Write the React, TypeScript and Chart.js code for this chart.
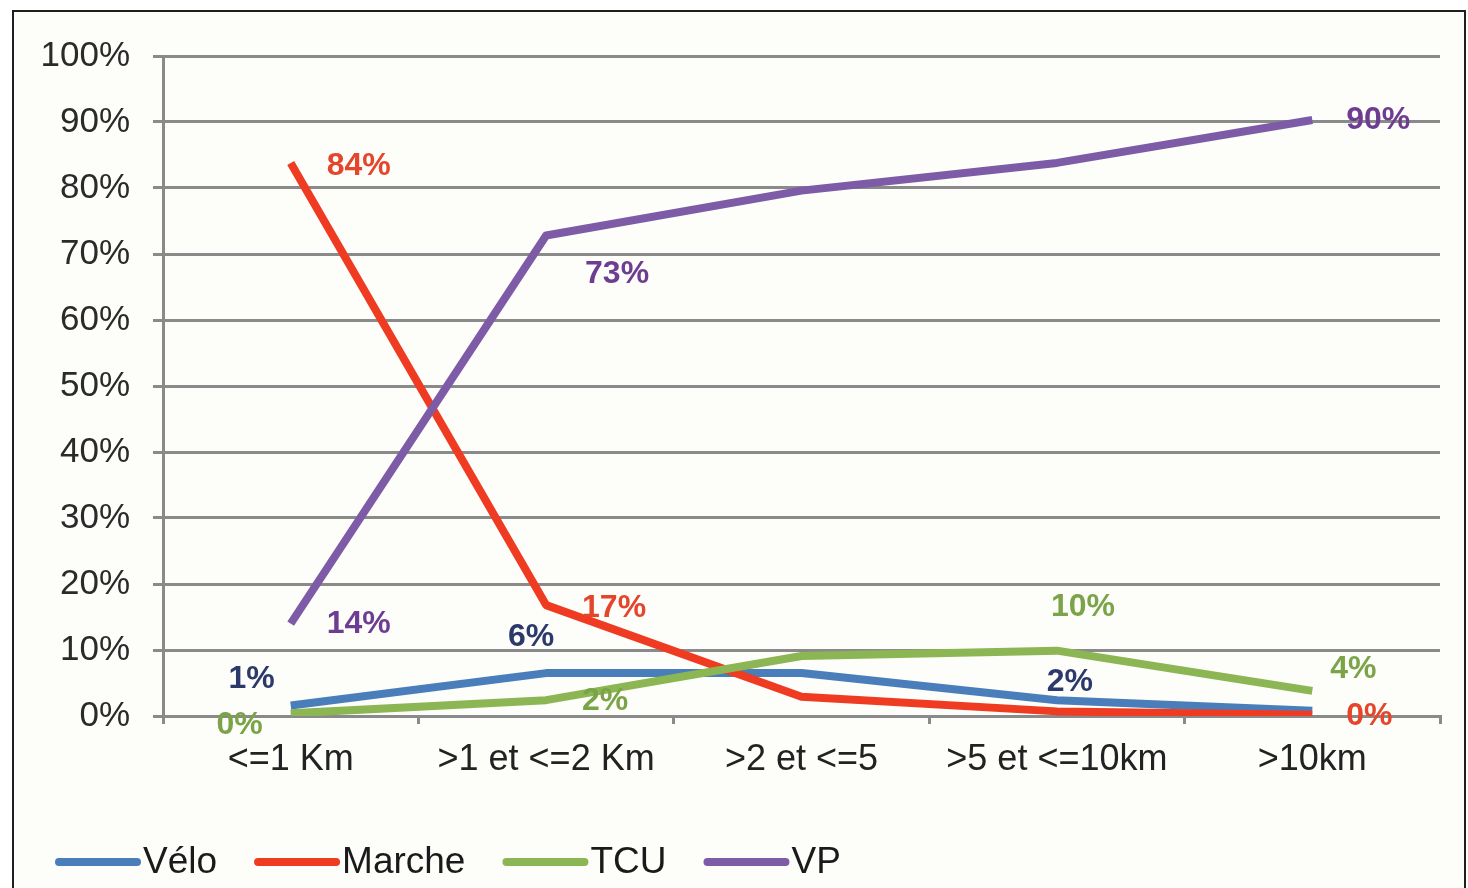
import { useEffect, useRef } from 'react';
import { Chart, registerables } from 'chart.js';

Chart.register(...registerables);

const categories = ['<=1 Km', '>1 et <=2 Km', '>2 et <=5', '>5 et <=10km', '>10km'];
const seriesNames = ['Vélo', 'Marche', 'TCU', 'VP'];

const veloValues = [1.6, 6.5, 6.5, 2.4, 0.8];
const marcheValues = [83.8, 16.8, 2.9, 0.7, 0.2];
const tcuValues = [0.4, 2.4, 9.1, 9.9, 3.8];
const vpValues = [14.0, 72.8, 79.6, 83.8, 90.3];

const veloLabels = ['1%', '6%', null, '2%', null];
const marcheLabels = ['84%', '17%', null, null, '0%'];
const tcuLabels = ['0%', '2%', null, '10%', '4%'];
const vpLabels = ['14%', '73%', null, null, '90%'];

const yTickValues = [0, 10, 20, 30, 40, 50, 60, 70, 80, 90, 100];

// label offsets relative to their point (style, not data)
const veloLabelOffsets = [[-39, -26], [-15, -36], null, [13, -18], null];
const marcheLabelOffsets = [[68, 3], [68, 3], null, null, [57, 1]];
const tcuLabelOffsets = [[-51, 12], [59, 1], null, [26, -43], [41, -22]];
const vpLabelOffsets = [[68, 1], [71, 39], null, null, [66, 0]];

const FONT = "'Liberation Sans', Arial, Helvetica, sans-serif";

const pointLabelsPlugin = {
  id: 'pointLabels',
  afterDatasetsDraw(chart: any) {
    const ctx = chart.ctx;
    ctx.save();
    ctx.font = `bold 32px ${FONT}`;
    ctx.textAlign = 'center';
    ctx.textBaseline = 'middle';
    chart.data.datasets.forEach((ds: any, di: number) => {
      const meta = chart.getDatasetMeta(di);
      const labels = ds.pointLabels || [];
      const offs = ds.labelOffsets || [];
      meta.data.forEach((el: any, i: number) => {
        const t = labels[i];
        const o = offs[i];
        if (!t || !o) return;
        ctx.fillStyle = ds.labelColor;
        ctx.fillText(t, el.x + o[0], el.y + o[1]);
      });
    });
    ctx.restore();
  },
};

const lineLegendPlugin = {
  id: 'lineLegend',
  afterDraw(chart: any, _args: any, opts: any) {
    const ctx = chart.ctx;
    ctx.save();
    ctx.font = `37px ${FONT}`;
    ctx.textAlign = 'left';
    ctx.textBaseline = 'middle';
    let x = opts.x;
    const y = opts.y;
    chart.data.datasets.forEach((ds: any) => {
      ctx.strokeStyle = ds.borderColor;
      ctx.lineWidth = 8;
      ctx.lineCap = 'round';
      ctx.beginPath();
      ctx.moveTo(x + 4, y);
      ctx.lineTo(x + opts.lineLength - 4, y);
      ctx.stroke();
      x += opts.lineLength + opts.textGap;
      ctx.fillStyle = '#1a1a1a';
      ctx.fillText(ds.label, x, y + 1);
      x += ctx.measureText(ds.label).width + opts.itemGap;
    });
    ctx.restore();
  },
};

export default function App() {
  const canvasRef = useRef<HTMLCanvasElement | null>(null);

  useEffect(() => {
    if (!canvasRef.current) return;
    const gridColor = '#8a8a8a';
    const mk = (label: string, data: number[], color: string, labelColor: string, labels: any[], offs: any[], order: number) => ({
      label,
      data,
      borderColor: color,
      backgroundColor: color,
      borderWidth: 8,
      pointRadius: 0,
      pointHoverRadius: 0,
      tension: 0,
      borderJoinStyle: 'round',
      fill: false,
      order,
      labelColor,
      pointLabels: labels,
      labelOffsets: offs,
    });
    const chart = new Chart(canvasRef.current, {
      type: 'line',
      data: {
        labels: categories,
        datasets: [
          mk(seriesNames[0], veloValues, '#4a7ebb', '#2c3a6b', veloLabels, veloLabelOffsets, 3),
          mk(seriesNames[1], marcheValues, '#ef3b22', '#e5452b', marcheLabels, marcheLabelOffsets, 2),
          mk(seriesNames[2], tcuValues, '#8cb653', '#7aa447', tcuLabels, tcuLabelOffsets, 1),
          mk(seriesNames[3], vpValues, '#7d5ba6', '#6e3d91', vpLabels, vpLabelOffsets, 0),
        ] as any,
      },
      options: {
        responsive: false,
        animation: false,
        devicePixelRatio: 1,
        layout: { padding: { top: 44, right: 24, bottom: 132, left: 0 } },
        plugins: {
          legend: { display: false },
          tooltip: { enabled: false },
          lineLegend: { x: 41, y: 850, lineLength: 86, textGap: 2, itemGap: 37 },
        } as any,
        scales: {
          x: {
            offset: true,
            grid: {
              display: true,
              drawOnChartArea: false,
              drawTicks: true,
              tickLength: 8,
              offset: true,
              color: gridColor,
              lineWidth: 3,
            },
            border: { display: true, color: gridColor, width: 3 },
            ticks: {
              color: '#222',
              font: { family: FONT, size: 36 },
              padding: 14,
              maxRotation: 0,
              autoSkip: false,
            },
            afterFit: (scale: any) => {
              scale.height = 60;
            },
          },
          y: {
            min: 0,
            max: 100,
            afterBuildTicks: (scale: any) => {
              scale.ticks = yTickValues.map((v) => ({ value: v }));
            },
            grid: {
              color: gridColor,
              lineWidth: 3,
              tickLength: 10,
              drawTicks: true,
            },
            border: { display: true, color: gridColor, width: 3 },
            ticks: {
              color: '#2a2a2a',
              font: { family: FONT, size: 35 },
              padding: 23,
              callback: (v: any) => `${v}%`,
            },
            afterFit: (scale: any) => {
              scale.width = 149;
            },
          },
        },
      },
      plugins: [pointLabelsPlugin, lineLegendPlugin],
    });
    return () => chart.destroy();
  }, []);

  return (
    <div
      style={{
        position: 'absolute',
        left: 12,
        top: 10,
        width: 1454,
        height: 900,
        border: '2px solid #1e1e1e',
        boxSizing: 'border-box',
        background: '#fdfdfa',
        overflow: 'hidden',
      }}
    >
      <canvas
        ref={canvasRef}
        width={1450}
        height={896}
        style={{ display: 'block', width: 1450, height: 896 }}
      />
    </div>
  );
}
